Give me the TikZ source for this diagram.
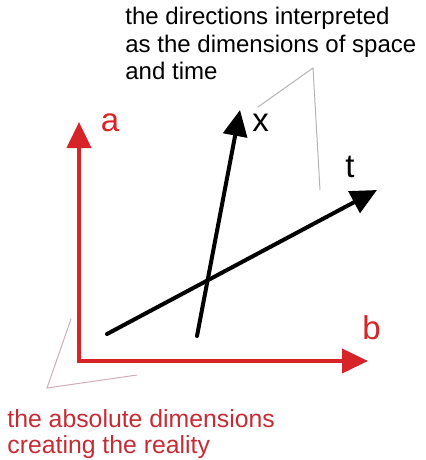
\documentclass[tikz,border=0pt]{standalone}
\usepackage{fontspec}
\setmainfont{Liberation Sans}
\usetikzlibrary{arrows.meta}
\definecolor{absRed}{RGB}{214, 36, 40}
\definecolor{noteRed}{RGB}{196, 44, 54}
\definecolor{leadGray}{RGB}{180, 180, 180}
\definecolor{leadPink}{RGB}{206, 172, 188}

\begin{document}
\begin{tikzpicture}[x=0.5pt, y=-0.5pt, >={Triangle[length=13pt, width=12pt]},
    axis/.style={line width=2pt},
    axislabel/.style={font=\fontsize{16.5}{19}\selectfont, inner sep=0pt},
    note/.style={align=left, inner sep=0pt, anchor=north west},
    leader/.style={line width=0.5pt}]
  \useasboundingbox (0,0) rectangle (425,460);

  % the absolute dimensions
  \coordinate (origin) at (79,361);
  \coordinate (aTip) at (79,122);
  \coordinate (bTip) at (368,361);
  \draw[axis, absRed, <->] (aTip) -- (origin) -- (bTip);
  \node[axislabel, absRed] (aLabel) at (110,123) {a};
  \node[axislabel, absRed] (bLabel) at (371.5,328) {b};

  % space and time
  \coordinate (tStart) at (107,334);
  \coordinate (tTip) at (377,190);
  \coordinate (xStart) at (197,336);
  \coordinate (xTip) at (240,110);
  \draw[axis, line cap=round, ->] (tStart) -- (tTip);
  \draw[axis, line cap=round, ->] (xStart) -- (xTip);
  \node[axislabel] (xLabel) at (260.5,123) {x};
  \node[axislabel] (tLabel) at (350,166.5) {t};

  % notes
  \node[note, font=\fontsize{12}{13.7}\selectfont] (spaceNote) at (125,7)
    {the directions interpreted\\as the dimensions of space\\and time};
  \coordinate (xLead) at (258,107);
  \coordinate (spaceBend) at (313,68);
  \coordinate (tLead) at (320,190);
  \draw[leader, leadGray] (xLead) -- (spaceBend) -- (tLead);

  \node[note, noteRed, font=\fontsize{12.4}{13.1}\selectfont] (absNote) at (7,409)
    {the absolute dimensions\\creating the reality};
  \coordinate (aLead) at (71,319);
  \coordinate (absBend) at (47,388);
  \coordinate (bLead) at (137,375);
  \draw[leader, leadPink] (aLead) -- (absBend) -- (bLead);
\end{tikzpicture}
\end{document}
